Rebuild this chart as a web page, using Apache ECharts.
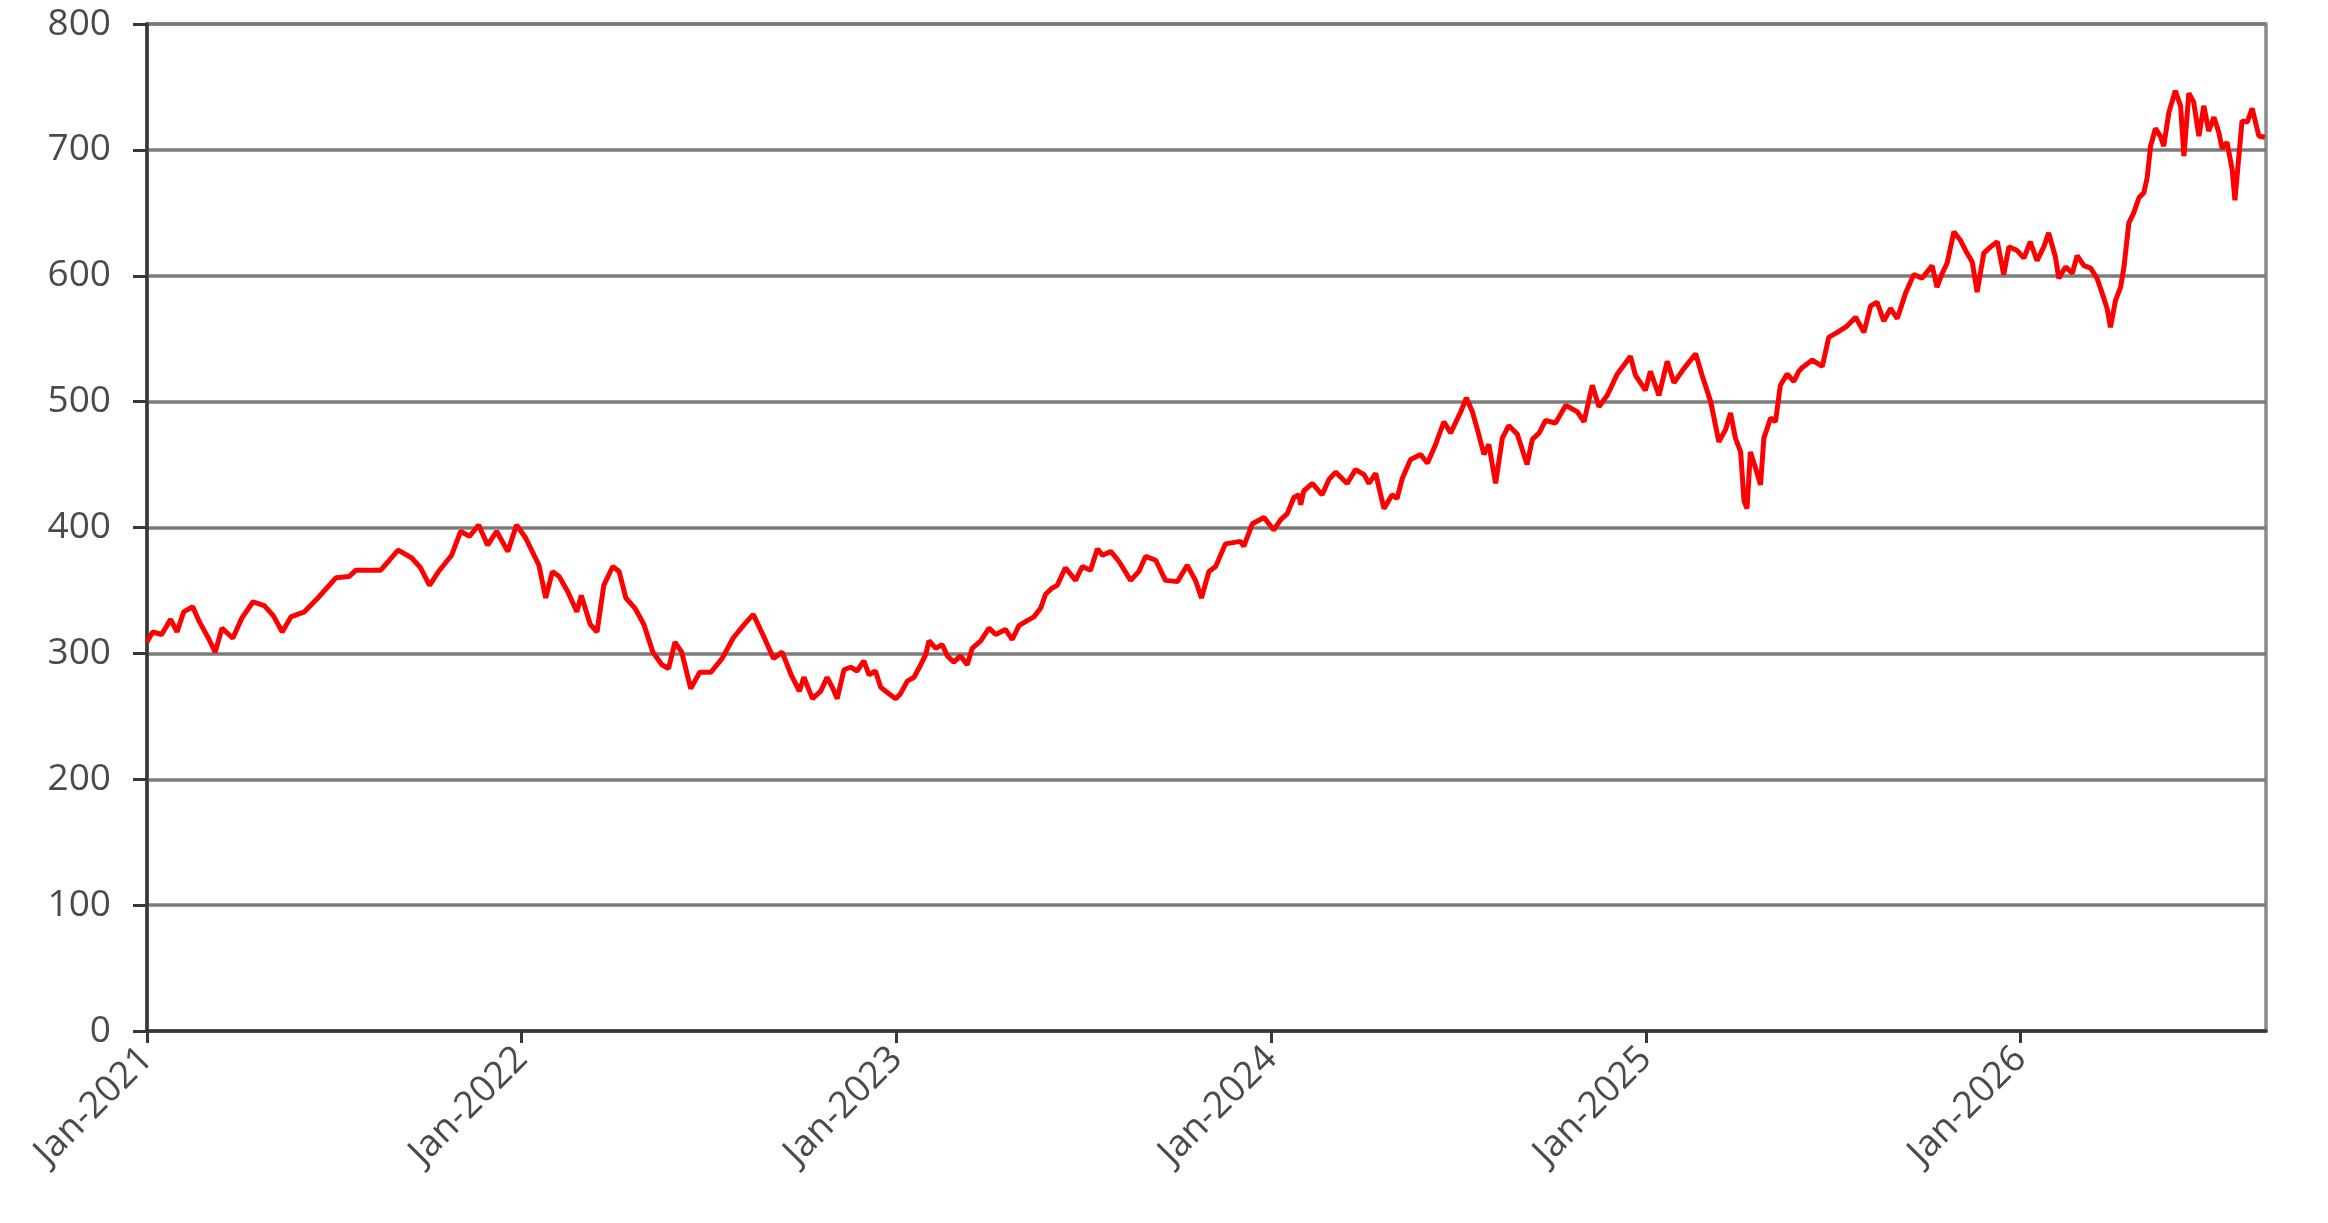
<!DOCTYPE html>
<html><head><meta charset="utf-8">
<script src="https://cdn.jsdelivr.net/npm/echarts@6/dist/echarts.min.js"></script>
<style>html,body{margin:0;padding:0;background:#fff}#c{width:2328px;height:1223px}</style>
</head><body><div id="c"></div>
<script>
// decimal-year positions of the samples
const years = [
2021.000,2021.015,2021.039,2021.063,2021.080,2021.098,2021.122,2021.140,2021.164,2021.182,
2021.200,2021.229,2021.253,2021.283,2021.313,2021.337,2021.361,2021.384,2021.420,2021.456,
2021.504,2021.539,2021.557,2021.587,2021.623,2021.647,2021.670,2021.706,2021.730,2021.754,
2021.778,2021.813,2021.837,2021.861,2021.885,2021.909,2021.933,2021.963,2021.986,2022.010,
2022.028,2022.046,2022.064,2022.082,2022.100,2022.123,2022.147,2022.159,2022.183,2022.201,
2022.219,2022.243,2022.260,2022.278,2022.302,2022.326,2022.350,2022.374,2022.392,2022.409,
2022.427,2022.451,2022.475,2022.505,2022.535,2022.564,2022.594,2022.618,2022.648,2022.672,
2022.695,2022.719,2022.741,
2022.753,2022.776,2022.798,2022.815,2022.829,2022.842,2022.860,2022.878,2022.895,2022.913,
2022.927,2022.944,2022.958,2022.980,2022.998,2023.011,2023.029,2023.047,2023.065,2023.078,
2023.087,2023.105,2023.122,2023.136,2023.153,2023.171,2023.189,2023.202,2023.225,2023.247,
2023.265,2023.291,2023.309,2023.327,2023.349,2023.367,2023.385,2023.398,2023.416,2023.429,
2023.451,2023.478,2023.496,2023.518,2023.536,2023.550,2023.572,2023.594,2023.625,2023.647,
2023.665,2023.692,2023.718,2023.750,2023.776,2023.798,2023.814,2023.834,2023.852,2023.878,
2023.918,2023.927,2023.950,2023.981,2024.007,2024.025,2024.043,2024.061,2024.074,
2024.079,2024.087,2024.110,2024.136,2024.154,2024.172,2024.203,2024.225,2024.248,2024.261,
2024.279,2024.301,2024.323,2024.336,2024.350,2024.372,2024.399,2024.417,2024.439,2024.461,
2024.479,2024.506,2024.521,2024.537,2024.554,2024.568,2024.581,2024.599,2024.617,2024.634,
2024.657,2024.683,2024.697,2024.715,2024.732,2024.759,2024.786,2024.817,2024.835,2024.857,
2024.875,2024.897,2024.924,2024.959,2024.972,2024.999,2025.012,2025.035,2025.057,2025.075,
2025.101,2025.133,2025.150,2025.173,2025.195,2025.213,2025.226,2025.239,2025.253,2025.262,
2025.270,2025.279,2025.293,2025.306,2025.315,2025.333,2025.346,2025.359,2025.377,2025.395,
2025.408,
2025.417,2025.444,2025.471,2025.488,2025.511,2025.537,2025.560,2025.582,2025.600,2025.617,
2025.635,2025.653,2025.671,2025.693,2025.715,2025.737,2025.764,2025.777,2025.791,2025.804,
2025.822,2025.840,2025.857,2025.871,2025.884,2025.902,2025.920,2025.938,2025.955,2025.969,
2025.991,2026.009,2026.026,2026.044,2026.062,2026.075,2026.093,2026.102,2026.120,2026.138,
2026.151,2026.169,2026.187,2026.204,2026.218,2026.231,2026.240,2026.253,2026.267,2026.276,
2026.289,2026.302,2026.316,2026.329,2026.338,2026.347,2026.360,2026.373,2026.382,2026.396,
2026.413,2026.427,2026.436,2026.449,2026.462,2026.476,2026.489,2026.502,2026.516,2026.529,
2026.538,2026.551,2026.565,2026.572,2026.582,2026.591,2026.605,2026.618,2026.636,2026.652
];
const values = [
309,317,315,327,317,333,337,325,312,301,
320,312,328,341,338,330,317,329,333,344,
360,361,366,366,366,374,382,376,368,354,
365,378,397,393,402,386,397,381,402,392,
381,370,344,365,361,349,333,346,323,317,
354,369,365,344,336,323,301,291,288,309,
301,272,285,285,296,312,323,331,312,296,
301,283,270,
281,264,270,281,273,264,287,289,286,294,
283,286,273,268,264,268,278,281,291,299,
310,304,307,298,293,298,291,304,310,320,
315,319,311,322,326,329,336,347,352,354,
368,358,369,366,383,378,381,373,358,365,
377,374,358,357,370,358,344,365,369,387,
389,385,403,408,398,406,411,424,426,
418,429,435,426,438,444,435,446,442,435,
443,415,426,423,439,454,458,451,466,484,
475,492,503,492,474,458,466,435,471,481,
474,450,470,475,485,483,497,492,484,513,
496,505,522,536,521,509,524,505,532,515,
526,538,521,500,468,478,491,471,460,421,
415,460,447,434,471,487,484,513,522,516,
524,
527,533,528,551,555,560,567,555,576,579,
564,574,566,586,601,598,608,591,602,610,
635,628,618,611,587,618,623,627,601,623,
620,614,627,612,623,634,615,598,607,602,
616,608,606,598,586,574,559,580,591,607,
642,650,662,666,678,703,717,711,703,730,
747,735,695,745,738,711,735,715,726,714,
701,706,684,660,693,723,722,733,711,710
];
const xTickYears = [2021, 2022, 2023, 2024, 2025, 2026];
const yMin = 0, yMax = 800, yStep = 100;
const xMin = 2021, xMax = 2026.655;

const chart = echarts.init(document.getElementById('c'));
const dark = '#383838';
const labelColor = '#4a4a4a';
chart.setOption({
  animation: false,
  backgroundColor: '#ffffff',
  grid: {
    left: 147, right: 62, top: 24, bottom: 192,
    show: true, borderColor: '#8a8a8a', borderWidth: 3.5,
    outerBoundsMode: 'none', containLabel: false
  },
  xAxis: {
    type: 'value', min: xMin, max: xMax, interval: 1,
    axisLine: { show: true, onZero: false, lineStyle: { color: dark, width: 3.5 } },
    axisTick: { show: true, length: 12, customValues: xTickYears, lineStyle: { color: dark, width: 3 } },
    axisLabel: {
      customValues: xTickYears,
      formatter: v => 'Jan-' + Math.round(v),
      rotate: 45, margin: 22, color: labelColor,
      fontFamily: 'Open Sans', fontSize: 37
    },
    splitLine: { show: false }
  },
  yAxis: {
    type: 'value', min: yMin, max: yMax, interval: yStep,
    axisLine: { show: true, lineStyle: { color: dark, width: 3.5 } },
    axisTick: { show: true, length: 14, lineStyle: { color: dark, width: 3 } },
    axisLabel: { margin: 36, color: labelColor, fontFamily: 'Open Sans', fontSize: 37 },
    splitLine: { show: true, lineStyle: { color: '#7c7c7c', width: 3.5 } }
  },
  series: [{
    type: 'line',
    data: years.map((y, i) => [y, values[i]]),
    showSymbol: false,
    lineStyle: { color: '#ff0000', width: 5 },
    itemStyle: { color: '#ff0000' }
  }]
});
</script>
</body></html>
